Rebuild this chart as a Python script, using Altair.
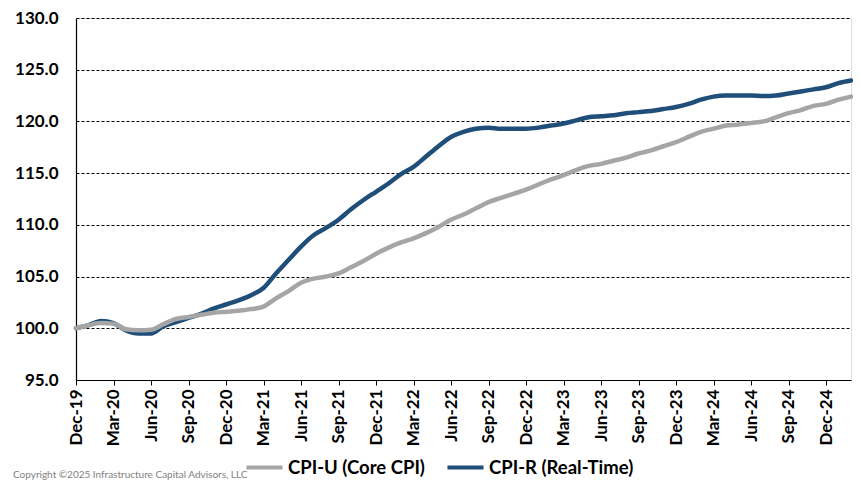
import altair as alt
import pandas as pd

months = [d.strftime("%b-%y") for d in pd.date_range("2019-12-01", "2025-02-01", freq="MS")]

cpi_r = [100.0, 100.3, 100.7, 100.5, 99.8, 99.5, 99.5, 100.2, 100.6, 101.0,
         101.4, 101.9, 102.3, 102.7, 103.2, 103.9, 105.3, 106.6, 107.9, 109.0,
         109.7, 110.5, 111.5, 112.4, 113.2, 114.0, 114.9, 115.6, 116.6, 117.6,
         118.5, 119.0, 119.3, 119.4, 119.3, 119.3, 119.3, 119.4, 119.6, 119.8,
         120.1, 120.4, 120.5, 120.6, 120.8, 120.9, 121.0, 121.2, 121.4, 121.7,
         122.1, 122.4, 122.5, 122.5, 122.5, 122.45, 122.5, 122.7, 122.9, 123.1,
         123.3, 123.7, 123.95]

cpi_u = [100.0, 100.3, 100.5, 100.45, 99.9, 99.8, 99.85, 100.4, 100.9, 101.1,
         101.3, 101.5, 101.6, 101.7, 101.85, 102.1, 102.9, 103.6, 104.4, 104.8,
         105.0, 105.3, 105.9, 106.5, 107.2, 107.8, 108.3, 108.7, 109.2, 109.8,
         110.5, 111.0, 111.6, 112.2, 112.6, 113.0, 113.4, 113.9, 114.4, 114.8,
         115.3, 115.7, 115.9, 116.2, 116.5, 116.9, 117.2, 117.6, 118.0, 118.5,
         119.0, 119.3, 119.6, 119.7, 119.85, 120.0, 120.4, 120.8, 121.1, 121.5,
         121.7, 122.1, 122.4]

series_names = ["CPI-U (Core CPI)", "CPI-R (Real-Time)"]
series_colors = ["#A5A5A5", "#1F4E79"]
quarter_labels = months[::3]
y_ticks = [95, 100, 105, 110, 115, 120, 125, 130]
copyright_text = "Copyright ©2025 Infrastructure Capital Advisors, LLC"

df_u = pd.DataFrame({"month": months, "value": cpi_u, "series": series_names[0]})
df_r = pd.DataFrame({"month": months, "value": cpi_r, "series": series_names[1]})

FONT = "Lato"

x_enc = alt.X("month:O", sort=months, title=None,
              scale=alt.Scale(type="point", padding=0),
              axis=alt.Axis(values=quarter_labels, labelAngle=270, labelFont=FONT,
                            labelFontSize=17, labelFontWeight="bold", labelColor="black",
                            tickColor="black", tickSize=5, labelPadding=4,
                            domainColor="black", domainWidth=1.2, grid=False))
y_enc = alt.Y("value:Q", title=None,
              scale=alt.Scale(domain=[95, 130], nice=False, zero=False),
              axis=alt.Axis(values=y_ticks, format=".1f", ticks=False, labelPadding=18,
                            labelFont=FONT, labelFontSize=17, labelFontWeight="bold",
                            labelColor="black", domainColor="black", domainWidth=1.2,
                            grid=True, gridColor="black", gridDash=[3, 2], gridWidth=1))
color_enc = alt.Color("series:N",
                      scale=alt.Scale(domain=series_names, range=series_colors),
                      legend=alt.Legend(title=None, orient="none", direction="horizontal",
                                        legendX=168, legendY=429, symbolType="stroke",
                                        symbolStrokeWidth=4, symbolSize=1300,
                                        labelFont=FONT, labelFontSize=18.5,
                                        labelFontWeight="bold", labelColor="black",
                                        columnPadding=14, labelOffset=3))

line_r = alt.Chart(df_r).mark_line(strokeWidth=4.5, interpolate="monotone", strokeCap="round").encode(
    x=x_enc, y=y_enc, color=color_enc)
line_u = alt.Chart(df_u).mark_line(strokeWidth=4.5, interpolate="monotone", strokeCap="round").encode(
    x=x_enc, y=y_enc, color=color_enc)

copyright = alt.Chart(pd.DataFrame({"t": [copyright_text]})).mark_text(
    align="left", baseline="alphabetic", font=FONT, fontSize=10, color="#7F7F7F"
).encode(text="t:N", x=alt.value(-63), y=alt.value(460))

chart = alt.layer(line_r, line_u, copyright).properties(
    width=775, height=362,
    autosize=alt.AutoSizeParams(type="none"),
    padding={"left": 68, "top": 10, "right": 2, "bottom": 102},
).configure_view(stroke=None).configure(background="white")

chart.save("out.html", embed_options={"renderer": "svg", "actions": False})
